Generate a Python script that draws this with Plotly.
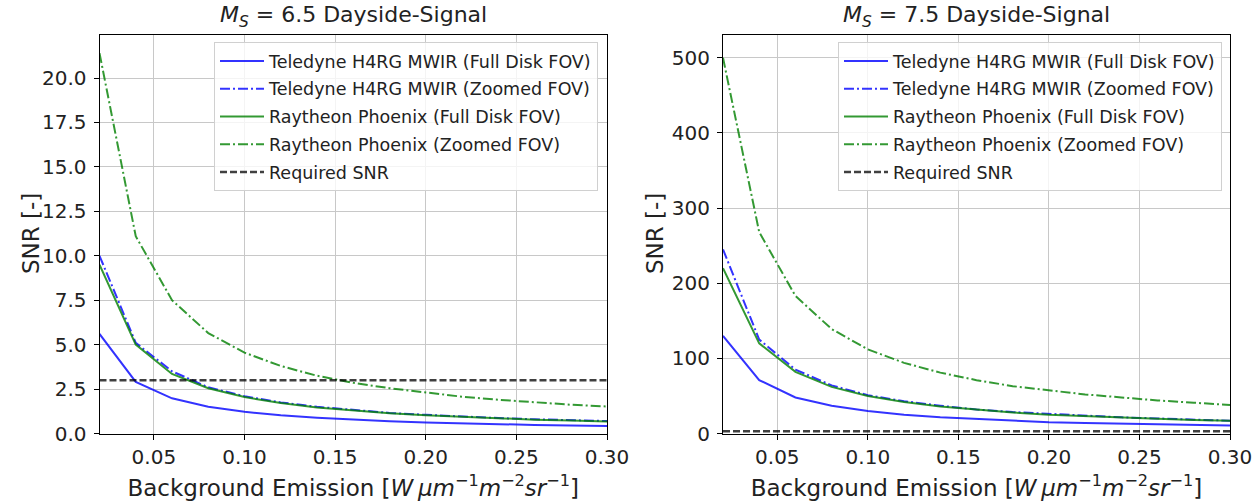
import plotly.graph_objects as go

# Background emission grid [W um^-1 m^-2 sr^-1]
emission = [0.02, 0.04, 0.06, 0.08, 0.10, 0.12, 0.14, 0.16, 0.18, 0.20,
            0.22, 0.24, 0.26, 0.28, 0.30]

# SNR, M_S = 6.5 dayside signal
ms65_teledyne_full = [5.6, 2.9, 1.98, 1.5, 1.22, 1.02, 0.88, 0.77, 0.69, 0.62,
                      0.56, 0.52, 0.48, 0.45, 0.42]
ms65_teledyne_zoom = [10.0, 5.1, 3.5, 2.6, 2.1, 1.75, 1.5, 1.31, 1.16, 1.05,
                      0.95, 0.87, 0.8, 0.75, 0.7]
ms65_raytheon_full = [9.5, 5.0, 3.35, 2.55, 2.05, 1.71, 1.46, 1.28, 1.14, 1.02,
                      0.93, 0.85, 0.78, 0.73, 0.68]
ms65_raytheon_zoom = [21.4, 11.1, 7.5, 5.65, 4.55, 3.8, 3.25, 2.85, 2.55, 2.3,
                      2.07, 1.9, 1.75, 1.62, 1.52]

# SNR, M_S = 7.5 dayside signal
ms75_teledyne_full = [130, 71, 48, 37, 30, 25, 21.5, 19, 17, 15,
                      14, 13, 12, 11.2, 10.5]
ms75_teledyne_zoom = [245, 125, 85, 64, 51, 43, 37, 32, 28.5, 26,
                      23.5, 21.5, 20, 18.5, 17]
ms75_raytheon_full = [220, 120, 82, 62, 50, 42, 36, 31.5, 28, 25,
                      23, 21, 19.5, 18, 17]
ms75_raytheon_zoom = [500, 268, 183, 139, 112, 94, 81, 71, 63, 57,
                      52, 48, 44, 41, 38]

required_snr = 3.0

labels = ["Teledyne H4RG MWIR (Full Disk FOV)",
          "Teledyne H4RG MWIR (Zoomed FOV)",
          "Raytheon Phoenix (Full Disk FOV)",
          "Raytheon Phoenix (Zoomed FOV)",
          "Required SNR"]

BLUE = "rgba(0,0,255,0.8)"
GREEN = "rgba(0,128,0,0.8)"
BLACK = "rgba(0,0,0,0.75)"
DASHDOT = "10px,3px,2px,3px"
DASHED = "7px,3px"

# (colour, dash, width) per series
styles = [(BLUE, "solid", 2), (BLUE, DASHDOT, 2), (GREEN, "solid", 2),
          (GREEN, DASHDOT, 2), (BLACK, DASHED, 2.5)]

FONT = "DejaVu Sans"
TXT = "#222"
W, H = 1258, 501

fig = go.Figure()

panels = [
    ("x", "y", "legend", [ms65_teledyne_full, ms65_teledyne_zoom,
                          ms65_raytheon_full, ms65_raytheon_zoom]),
    ("x2", "y2", "legend2", [ms75_teledyne_full, ms75_teledyne_zoom,
                             ms75_raytheon_full, ms75_raytheon_zoom]),
]

for xa, ya, lg, series in panels:
    all_series = series + [[required_snr] * len(emission)]
    for i, (ys, name) in enumerate(zip(all_series, labels)):
        color, dash, lw = styles[i]
        fig.add_trace(go.Scatter(
            x=emission, y=ys, mode="lines", name=name,
            line=dict(color=color, width=lw, dash=dash),
            xaxis=xa, yaxis=ya, legend=lg, legendgroup=f"{lg}_{i}",
        ))

def px_x(p):
    return p / W

def px_y(p):
    return 1 - p / H

y_top, y_bot = 34.5, 433.5
y_dom = [px_y(y_bot), px_y(y_top)]

axis_common = dict(
    showline=True, linecolor="black", linewidth=1, mirror=True,
    ticks="outside", ticklen=5, tickcolor="black", tickwidth=1,
    showgrid=True, gridcolor="#c8c8c8", gridwidth=1,
    zeroline=False, automargin=False,
    tickfont=dict(family=FONT, size=20, color=TXT),
)

xtitle = ("Background Emission [<i>W\u2009\u03bcm</i><sup>\u22121</sup>"
          "<i>m</i><sup>\u22122</sup><i>sr</i><sup>\u22121</sup>]")
title_font = dict(size=23, family=FONT, color=TXT)

fig.update_layout(
    width=W, height=H,
    margin=dict(l=0, r=0, t=0, b=0),
    paper_bgcolor="white", plot_bgcolor="white",
    font=dict(family=FONT, color=TXT),
    xaxis=dict(domain=[px_x(99.5), px_x(607)], range=[0.02, 0.30],
               tick0=0, dtick=0.05, tickformat=".2f", anchor="y",
               title=dict(text=xtitle, font=title_font),
               **axis_common),
    yaxis=dict(domain=y_dom, range=[0, 22.45], tick0=0, dtick=2.5,
               tickformat=".1f", anchor="x", ticklabelstandoff=3,
               **axis_common),
    xaxis2=dict(domain=[px_x(723), px_x(1230)], range=[0.02, 0.30],
                tick0=0, dtick=0.05, tickformat=".2f", anchor="y2",
                title=dict(text=xtitle, font=title_font),
                **axis_common),
    yaxis2=dict(domain=y_dom, range=[0, 531], tick0=0, dtick=100,
                anchor="x2", ticklabelstandoff=3,
                **axis_common),
)

legend_common = dict(
    yanchor="top", xanchor="right", y=px_y(42),
    bgcolor="rgba(255,255,255,0.8)", bordercolor="#d0d0d0", borderwidth=1,
    font=dict(family=FONT, size=17.5, color=TXT),
    traceorder="grouped", tracegroupgap=2, itemwidth=44,
)
fig.update_layout(
    legend=dict(x=px_x(598), **legend_common),
    legend2=dict(x=px_x(1222), **legend_common),
)

# Panel titles
titles = ["<i>M</i><sub><i>S</i></sub> = 6.5 Dayside-Signal",
          "<i>M</i><sub><i>S</i></sub> = 7.5 Dayside-Signal"]
centers = [(99.5 + 607) / 2, (723 + 1230) / 2]
for t, c in zip(titles, centers):
    fig.add_annotation(text=t, x=px_x(c), y=px_y(33), xref="paper", yref="paper",
                       xanchor="center", yanchor="bottom", showarrow=False,
                       font=dict(family=FONT, size=22, color=TXT))

# Y-axis titles
for xc in (31, 655):
    fig.add_annotation(text="SNR [-]", x=px_x(xc), y=px_y((y_top + y_bot) / 2),
                       xref="paper", yref="paper", xanchor="center",
                       yanchor="middle", textangle=-90, showarrow=False,
                       font=title_font)

fig.write_html("out.html")
